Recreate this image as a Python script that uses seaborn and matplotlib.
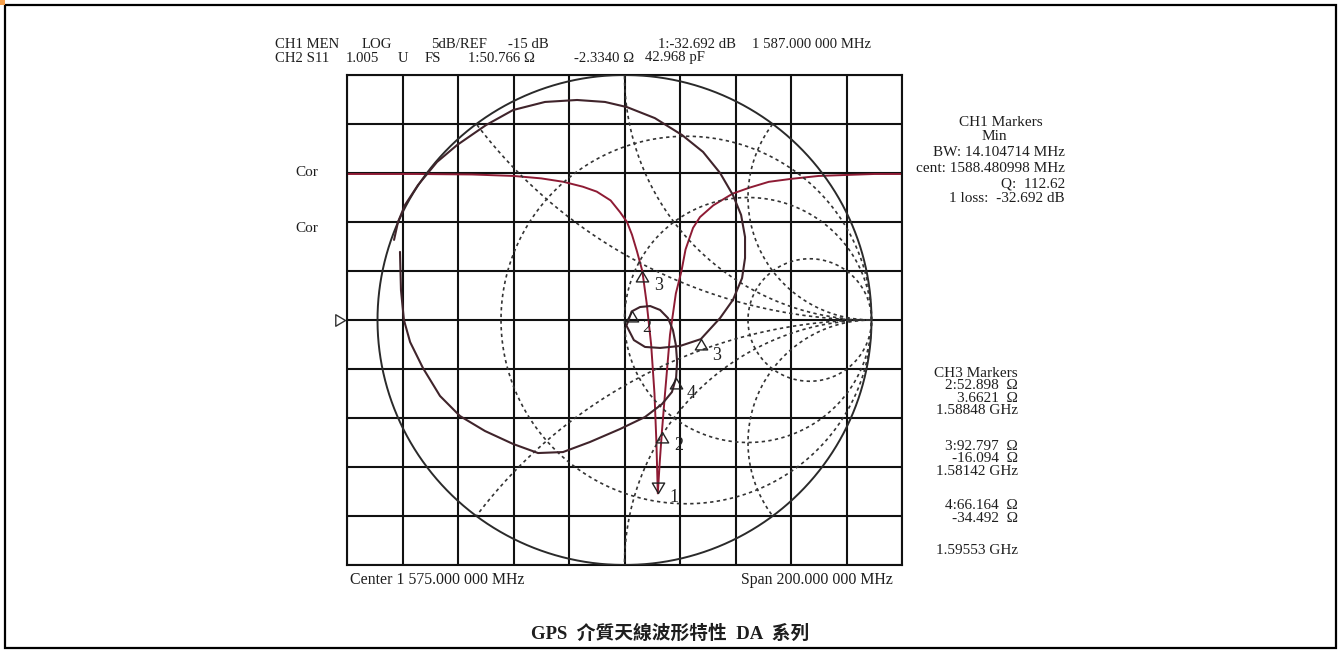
import numpy as np
import pandas as pd
import matplotlib
matplotlib.use('Agg')
import matplotlib.pyplot as plt
from matplotlib.path import Path
from matplotlib.patches import Rectangle
import seaborn as sns

# CH1: log magnitude of S11 against frequency
freq_mhz = [1475, 1500, 1520, 1535, 1545, 1553, 1560, 1565, 1570, 1573.4, 1575.9,
            1577.7, 1579.5, 1581.42, 1583.0, 1584.6, 1585.8, 1586.5, 1587.0, 1587.7,
            1588.48, 1589.6, 1591.4, 1593.5, 1595.53, 1597.0, 1599.7, 1602.2, 1607,
            1614, 1620, 1627, 1635, 1645, 1655, 1665, 1675]
s11_db = [-0.1, -0.1, -0.15, -0.3, -0.55, -0.9, -1.4, -1.9, -2.8, -4.0, -5.0,
          -6.3, -8.0, -10.0, -13.3, -17.5, -22.5, -27.5, -32.692, -29.5,
          -26.4, -22.5, -16.5, -12.3, -10.0, -7.8, -5.6, -4.5, -3.3,
          -2.1, -1.5, -0.9, -0.6, -0.3, -0.2, -0.1, -0.1]

# CH2: S11 on the Smith chart (reflection coefficient, real / imag)
gamma_re = [-0.933, -0.917, -0.889, -0.836, -0.759, -0.678, -0.560, -0.451, -0.322, -0.192,
            -0.079, 0.010, 0.123, 0.233, 0.318, 0.387, 0.439, 0.472, 0.488, 0.488,
            0.476, 0.439, 0.387, 0.309, 0.225, 0.144, 0.083, 0.038, 0.008, 0.029,
            0.063, 0.104, 0.144, 0.176, 0.196, 0.208, 0.213, 0.209, 0.192, 0.152,
            0.083, -0.018, -0.140, -0.249, -0.350, -0.451, -0.565, -0.666, -0.747,
            -0.816, -0.868, -0.893, -0.905, -0.909]
gamma_im = [0.327, 0.400, 0.469, 0.551, 0.645, 0.714, 0.796, 0.857, 0.890, 0.898,
            0.890, 0.869, 0.824, 0.755, 0.686, 0.600, 0.510, 0.429, 0.339, 0.253,
            0.171, 0.082, 0.008, -0.078, -0.106, -0.114, -0.110, -0.082, -0.023, 0.035,
            0.053, 0.057, 0.041, 0.008, -0.041, -0.102, -0.170, -0.235, -0.294, -0.343,
            -0.396, -0.445, -0.498, -0.539, -0.543, -0.506, -0.453, -0.392, -0.310,
            -0.196, -0.090, 0.0, 0.122, 0.278]

# markers
db_marker_freq = [1587.0, 1588.48, 1581.42]
db_marker_val = [-32.692, -26.4, -10.0]
db_marker_lbl = ['1', '2', '3']
sm_marker_re = [0.029, 0.309, 0.209]
sm_marker_im = [0.035, -0.078, -0.235]
sm_marker_lbl = ['2', '3', '4']

# Smith chart grid values
r_circles = [1 / 3, 1, 3]
x_arcs = [0.5, 1, 2]

header1 = [(275, 'CH1 MEN'), (362, 'LOG'), (431, '5dB/REF'), (508, '-15 dB'),
           (658, '1:-32.692 dB'), (752, '1 587.000 000 MHz')]
header2 = [(275, 'CH2 S11'), (346, '1.005'), (398, 'U'), (425, 'FS'),
           (468, '1:50.766 \u03a9'), (574, '-2.3340 \u03a9'), (645, '42.968 pF')]
ch1_block = [(1043, 122, 'CH1 Markers'), (1007, 137, 'Min'),
             (1065, 153, 'BW: 14.104714 MHz'), (1065, 168, 'cent: 1588.480998 MHz'),
             (1065, 184, 'Q:  112.62'), (1065, 199, '1 loss:  -32.692 dB')]
ch3_groups = [(392, ['CH3 Markers', '2:52.898  \u03a9', '3.6621  \u03a9', '1.58848 GHz']),
              (459, ['3:92.797  \u03a9', '-16.094  \u03a9', '1.58142 GHz']),
              (512, ['4:66.164  \u03a9', '-34.492  \u03a9']),
              (550, ['1.59553 GHz'])]

W, H = 1341, 652
sns.set_theme(style='white')
plt.rcParams['font.family'] = ['Liberation Serif', 'Noto Sans CJK TC', 'DejaVu Sans']

fig = plt.figure(figsize=(W / 100, H / 100), dpi=100)
fig.patch.set_facecolor('white')


def ftext(x, y, s, ha='left', size=10.5, **kw):
    fig.text(x / W, 1 - y / H, s, ha=ha, va='center', fontsize=size, color='#1e1e1e', **kw)


gx0, gx1, gy0, gy1 = 347, 902, 75, 565
pos = [gx0 / W, 1 - gy1 / H, (gx1 - gx0) / W, (gy1 - gy0) / H]

ax_db = fig.add_axes(pos)
ax_db.set_xlim(1475, 1675)
ax_db.set_ylim(-40, 10)
ax_db.set_xticks(np.linspace(1475, 1675, 11))
ax_db.set_yticks(np.linspace(-40, 10, 11))
ax_db.grid(True, color='#111111', lw=1.5)
ax_db.tick_params(length=0, labelbottom=False, labelleft=False)
for sp in ax_db.spines.values():
    sp.set_color('#111111')
    sp.set_linewidth(1.5)
    sp.set_visible(True)

db_df = pd.DataFrame({'f': freq_mhz, 'db': s11_db})
sns.lineplot(data=db_df, x='f', y='db', ax=ax_db, color='#8e1b34', lw=1.4,
             sort=False, estimator=None)
ax_db.set_xlabel('')
ax_db.set_ylabel('')

up_tri = Path([(0, 0), (-0.65, -1.1), (0.65, -1.1), (0, 0)],
              [Path.MOVETO, Path.LINETO, Path.LINETO, Path.CLOSEPOLY])
down_tri = Path([(0, 0), (-0.65, 1.1), (0.65, 1.1), (0, 0)],
                [Path.MOVETO, Path.LINETO, Path.LINETO, Path.CLOSEPOLY])
right_tri = Path([(0, 0), (-1.1, 0.65), (-1.1, -0.65), (0, 0)],
                 [Path.MOVETO, Path.LINETO, Path.LINETO, Path.CLOSEPOLY])

for f, v, lb in zip(db_marker_freq, db_marker_val, db_marker_lbl):
    mk = down_tri if lb == '1' else up_tri
    ax_db.plot([f], [v], marker=mk, ms=15, mfc='none', mec='#222222', mew=1.0, ls='none')
    dy = -4 if lb == '1' else -14
    ax_db.annotate(lb, (f, v), xytext=(12, dy), textcoords='offset pixels',
                   fontsize=13, color='#222222', va='center')

ax_db.plot([1474.2], [-15], marker=right_tri, ms=14, mfc='none', mec='#333333',
           mew=1.0, ls='none', clip_on=False)

# Smith chart overlay
ax_s = fig.add_axes(pos, frameon=False)
ax_s.set_xlim(-1.1235, 1.1235)
ax_s.set_ylim(-1, 1)
ax_s.set_xticks([])
ax_s.set_yticks([])
ax_s.patch.set_alpha(0)

t = np.linspace(0, 2 * np.pi, 1441)
ax_s.plot(np.cos(t), np.sin(t), color='#2a2a2a', lw=1.4)
for r in r_circles:
    c, rad = r / (1 + r), 1 / (1 + r)
    ax_s.plot(c + rad * np.cos(t), rad * np.sin(t), color='#333333', lw=1.2,
              ls=(0, (2.0, 2.0)))
for xv in x_arcs:
    for sgn in (1, -1):
        px = 1 + np.cos(t) / xv
        py = sgn / xv + np.sin(t) / xv
        out = px ** 2 + py ** 2 > 1.0
        px[out] = np.nan
        py[out] = np.nan
        ax_s.plot(px, py, color='#333333', lw=1.2, ls=(0, (2.0, 2.0)))

sm_df = pd.DataFrame({'re': gamma_re, 'im': gamma_im})
sns.lineplot(data=sm_df, x='re', y='im', ax=ax_s, color='#40242b', lw=1.5,
             sort=False, estimator=None)
ax_s.set_xlabel('')
ax_s.set_ylabel('')

for re, im, lb in zip(sm_marker_re, sm_marker_im, sm_marker_lbl):
    ax_s.plot([re], [im], marker=up_tri, ms=15, mfc='none', mec='#222222', mew=1.0, ls='none')
    ax_s.annotate(lb, (re, im), xytext=(11, -16), textcoords='offset pixels',
                  fontsize=13, color='#222222', va='center')

# annotations around the grid
for x, s in header1:
    ftext(x, 44, s, size=10.6)
for x, s in header2:
    ftext(x, 58, s, size=10.6)
for x, y, s in ch1_block:
    ftext(x, y, s, ha='right', size=11.0)
for yc, lines in ch3_groups:
    ftext(1018, yc, '\n'.join(lines), ha='right', size=11.0, linespacing=0.95,
          multialignment='right')
ftext(307, 172, 'Cor', ha='center', size=11)
ftext(307, 228, 'Cor', ha='center', size=11)
ftext(350, 580, 'Center 1 575.000 000 MHz', size=11.4)
ftext(893, 580, 'Span 200.000 000 MHz', ha='right', size=11.4)
ftext(670, 634, 'GPS  \u4ecb\u8cea\u5929\u7dda\u6ce2\u5f62\u7279\u6027  DA  \u7cfb\u5217',
      ha='center', size=13.5, fontweight='bold')

# page frame and corner tag
fig.patches.append(Rectangle((5 / W, 4 / H), (1336 - 5) / W, (648 - 5) / H,
                             transform=fig.transFigure, fill=False, ec='black', lw=1.6))
fig.patches.append(Rectangle((0, 1 - 5 / H), 5 / W, 5 / H, transform=fig.transFigure,
                             fc='#f5a04c', ec='none'))

fig.savefig('out.png', dpi=100, facecolor='white')
